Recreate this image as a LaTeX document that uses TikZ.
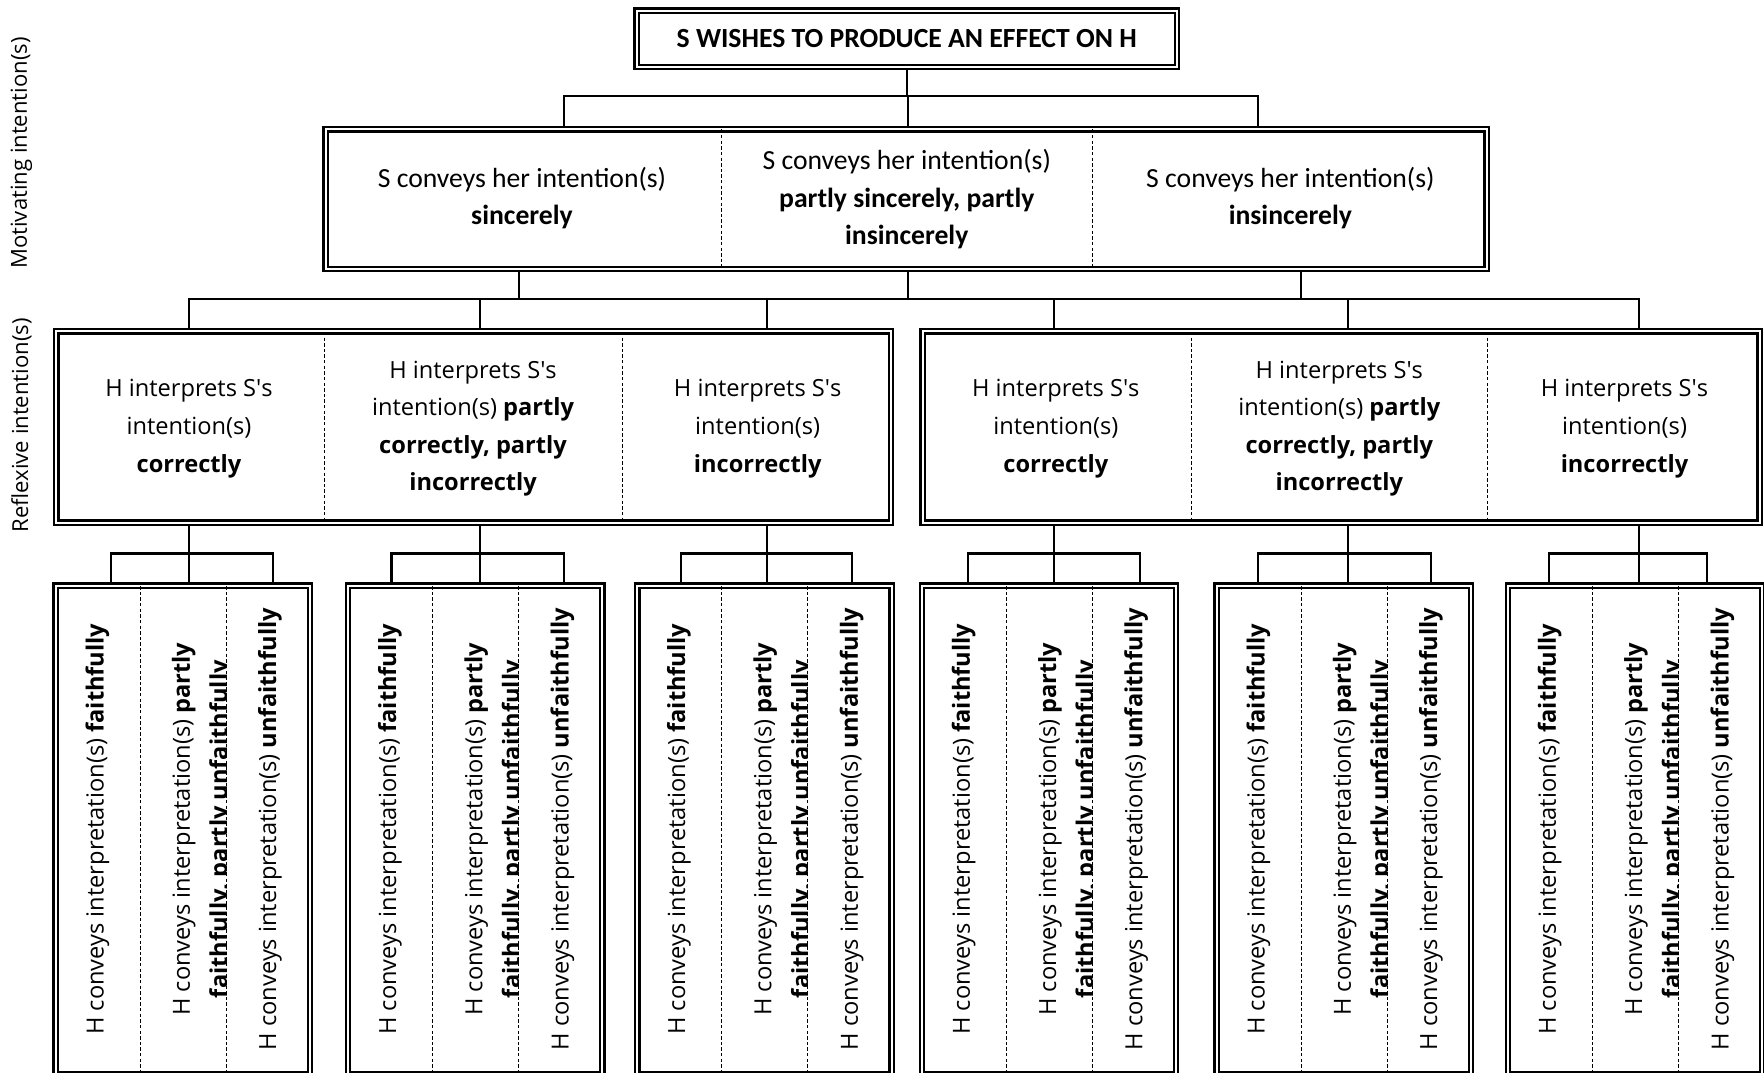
\documentclass[tikz,border=0pt]{standalone}
\usepackage{fontspec}
\setmainfont{Carlito}
\newfontfamily\opensans{Open Sans}
\usetikzlibrary{positioning}
\tikzset{
  basic/.style   = {draw, double, line width=1pt, double distance=0.9pt,
                    rectangle, inner sep=0pt},
  root/.style    = {basic, font=\fontsize{12.3}{16.5}\selectfont\bfseries},
  level 2/.style = {align=center, font=\fontsize{12.3}{16.5}\selectfont},
  level 3/.style = {align=center, font=\opensans\fontsize{10.5}{16.7}\selectfont},
  level 4/.style = {level 3, rotate=90},
  side/.style    = {rotate=90, font=\opensans\fontsize{9.8}{12}\selectfont},
  link/.style    = {draw, line width=0.9pt},
  divider/.style = {draw, line width=0.4pt, dash pattern=on 1.5pt off 1pt}
}

\begin{document}
\begin{tikzpicture}[x=0.5pt, y=-0.5pt]
\useasboundingbox (0,0) rectangle (1568,953);

% labels on the left
\node[side] (mot) at (19,136) {Motivating intention(s)};
\node[side] (ref) at (19,378) {Reflexive intention(s)};

% root of the tree
\node[root, minimum width=240pt, minimum height=25pt] (top) at (806,34.5)
  {S WISHES TO PRODUCE AN EFFECT ON H};

% motivating intention(s), one box with three cells
\node[basic, minimum width=516pt, minimum height=62pt] (motive) at (805.5,177) {};
\foreach \x in {641,971}
  \draw[divider] (\x,115) -- (\x,239);
\node[level 2] (m1) at (464,176) {S conveys her intention(s)\\\textbf{sincerely}};
\node[level 2] (m2) at (806,177) {S conveys her intention(s)\\\textbf{partly sincerely, partly}\\\textbf{insincerely}};
\node[level 2] (m3) at (1147,176) {S conveys her intention(s)\\\textbf{insincerely}};

% reflexive intention(s), two boxes with three cells each
\node[basic, minimum width=371pt, minimum height=85pt] (reflexL) at (421,379.5) {};
\node[basic, minimum width=372pt, minimum height=85pt] (reflexR) at (1192,379.5) {};
\foreach \x in {288,553,1059,1322}
  \draw[divider] (\x,295) -- (\x,464);
\node[level 3] (r1) at (168,381) {H interprets S\textquotesingle s\\intention(s)\\\textbf{correctly}};
\node[level 3] (r2) at (420.5,381) {H interprets S\textquotesingle s\\intention(s) \textbf{partly}\\\textbf{correctly, partly}\\\textbf{incorrectly}};
\node[level 3] (r3) at (673.5,381) {H interprets S\textquotesingle s\\intention(s)\\\textbf{incorrectly}};
\node[level 3] (r4) at (938.5,381) {H interprets S\textquotesingle s\\intention(s)\\\textbf{correctly}};
\node[level 3] (r5) at (1190.5,381) {H interprets S\textquotesingle s\\intention(s) \textbf{partly}\\\textbf{correctly, partly}\\\textbf{incorrectly}};
\node[level 3] (r6) at (1444,381) {H interprets S\textquotesingle s\\intention(s)\\\textbf{incorrectly}};

% the bottom level, six boxes with vertical text
\foreach \lx [count=\i] in {48,308,565,818,1080,1339} {
  \node[basic, minimum width=113pt, minimum height=217pt] (conv\i) at (\lx+114.5,737.5) {};
  \draw[divider] (\lx+76.5,521) -- (\lx+76.5,956);
  \draw[divider] (\lx+153,521) -- (\lx+153,956);
  \node[level 4] (c\i1) at (\lx+38.5,737) {H conveys interpretation(s) \textbf{faithfully}};
  \begin{scope}
    \clip (\lx+76.5,519) rectangle (\lx+153,956);
    \node[level 4] (c\i2) at (\lx+132,737) {H conveys interpretation(s) \textbf{partly}\\\textbf{faithfully, partly unfaithfully}};
  \end{scope}
  \node[level 4] (c\i3) at (\lx+192,737) {H conveys interpretation(s) \textbf{unfaithfully}};
}

% connectors
\foreach \x [count=\i] in {501,807,1118}
  \coordinate (a\i) at (\x,113);
\foreach \i in {1,2,3}
  \draw[link] (top.south) -- ++(0,25) -| (a\i);

\foreach \x [count=\i] in {461,807,1156}
  \coordinate (b\i) at (\x,241);
\foreach \x [count=\i] in {168,427,682,937,1198,1457} {
  \coordinate (e\i) at (\x,293);
  \coordinate (f\i) at (\x,466);
}
\foreach \i in {1,2,3}
  \draw[link] (b\i) -- ++(0,25);
\foreach \i in {1,...,6}
  \draw[link] (b2) ++(0,25) -| (e\i);

\foreach \i/\lx/\mx/\rx in {1/99/168/243, 2/348/427/501, 3/605/682/757,
                            4/860/937/1013, 5/1118/1198/1272, 6/1377/1457/1517} {
  \coordinate (g\i1) at (\lx,519);
  \coordinate (g\i2) at (\mx,519);
  \coordinate (g\i3) at (\rx,519);
  \foreach \j in {1,2,3}
    \draw[link] (f\i) -- ++(0,26) -| (g\i\j);
}
\end{tikzpicture}
\end{document}
